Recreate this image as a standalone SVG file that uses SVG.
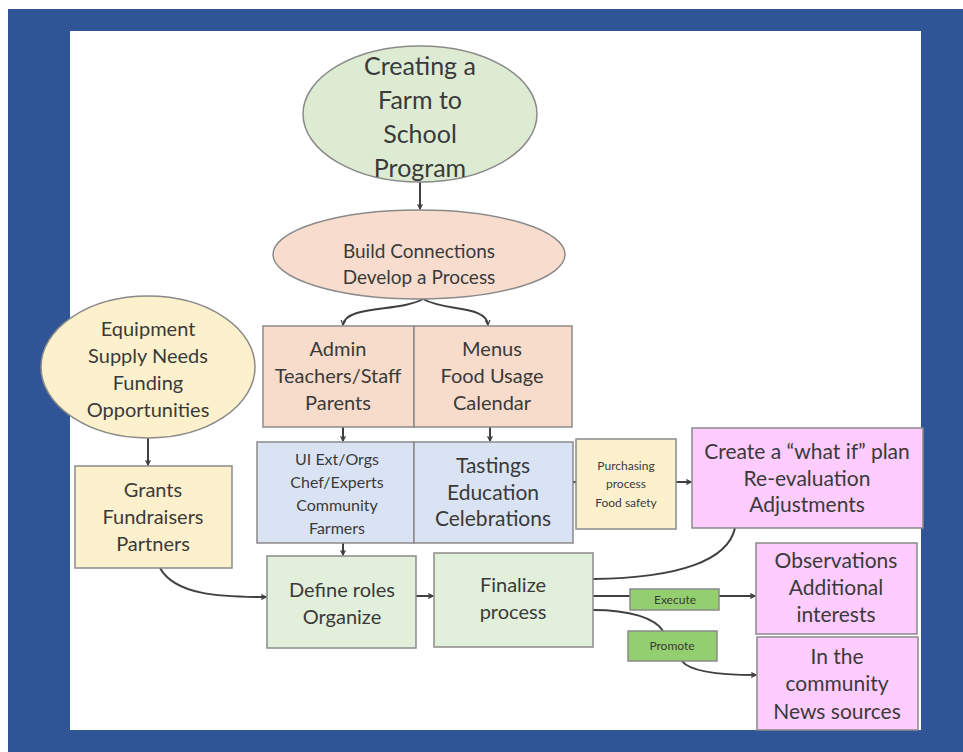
<svg xmlns="http://www.w3.org/2000/svg" width="963" height="752" viewBox="0 0 963 752">
<defs>
<style>
.t{font-family:Lato,"Open Sans","Liberation Sans",sans-serif;fill:#3a3a3a;text-anchor:middle}
.n{stroke:#8a8a8a;stroke-width:1.5}
.c{fill:none;stroke:#404040;stroke-width:2}
</style>
<marker id="ah" viewBox="0 0 10 10" refX="9" refY="5" markerWidth="6" markerHeight="6" orient="auto" markerUnits="userSpaceOnUse">
<path d="M1,1 L9,5 L1,9" fill="none" stroke="#404040" stroke-width="2"/>
</marker>
</defs>
<rect x="0" y="0" width="963" height="752" fill="#ffffff"/>
<rect x="8" y="9" width="955" height="743" fill="#2F5597"/>
<rect x="70" y="31" width="851" height="699" fill="#ffffff"/>

<g id="connectors">
<path class="c" d="M420,182 L420,209" marker-end="url(#ah)"/>
<path class="c" d="M423,299 C400,312 345,305 343,325" marker-end="url(#ah)"/>
<path class="c" d="M423,299 C446,312 486,305 488,325" marker-end="url(#ah)"/>
<path class="c" d="M343,427 L343,441" marker-end="url(#ah)"/>
<path class="c" d="M490,427 L490,441" marker-end="url(#ah)"/>
<path class="c" d="M148,438 L148,465" marker-end="url(#ah)"/>
<path class="c" d="M343,543 L343,555" marker-end="url(#ah)"/>
<path class="c" d="M160,568 C175,595 220,597 266,597" marker-end="url(#ah)"/>
<path class="c" d="M416,596 L433,596" marker-end="url(#ah)"/>
<path class="c" d="M573,482 L576,482"/>
<path class="c" d="M676,482 L691,482" marker-end="url(#ah)"/>
<path class="c" d="M593,579 C680,578 728,560 735,528"/>
<path class="c" d="M593,596 L755,596" marker-end="url(#ah)"/>
<path class="c" d="M593,610 C630,610 655,618 663,631"/>
<path class="c" d="M682,661 C690,672 720,675 756,675" marker-end="url(#ah)"/>
</g>

<g id="n-creating">
<ellipse class="n" cx="420" cy="114" rx="117" ry="68" fill="#DDEBD3"/>
<text class="t" font-size="25" x="420" y="75">Creating a</text>
<text class="t" font-size="25" x="420" y="109">Farm to</text>
<text class="t" font-size="25" x="420" y="143">School</text>
<text class="t" font-size="25" x="420" y="177">Program</text>
</g>

<g id="n-build">
<ellipse class="n" cx="419" cy="254.5" rx="146" ry="44.5" fill="#F8DDCF"/>
<text class="t" font-size="19" x="419" y="258">Build Connections</text>
<text class="t" font-size="19" x="419" y="284">Develop a Process</text>
</g>

<g id="n-equipment">
<ellipse class="n" cx="148" cy="367" rx="107" ry="71" fill="#FDF1CD"/>
<text class="t" font-size="20" x="148" y="336">Equipment</text>
<text class="t" font-size="20" x="148" y="363">Supply Needs</text>
<text class="t" font-size="20" x="148" y="390">Funding</text>
<text class="t" font-size="20" x="148" y="417">Opportunities</text>
</g>

<g id="n-grants">
<rect class="n" x="75" y="466" width="157" height="102" fill="#FDF1CD"/>
<text class="t" font-size="20" x="153" y="497">Grants</text>
<text class="t" font-size="20" x="153" y="524">Fundraisers</text>
<text class="t" font-size="20" x="153" y="551">Partners</text>
</g>

<g id="n-admin">
<rect class="n" x="263" y="326" width="151" height="101" fill="#F8DCCB"/>
<text class="t" font-size="20" x="338" y="356">Admin</text>
<text class="t" font-size="20" x="338" y="383">Teachers/Staff</text>
<text class="t" font-size="20" x="338" y="410">Parents</text>
</g>

<g id="n-menus">
<rect class="n" x="414" y="326" width="158" height="101" fill="#F8DCCB"/>
<text class="t" font-size="20" x="492" y="356">Menus</text>
<text class="t" font-size="20" x="492" y="383">Food Usage</text>
<text class="t" font-size="20" x="492" y="410">Calendar</text>
</g>

<g id="n-ui">
<rect class="n" x="257" y="442" width="157" height="101" fill="#DAE3F3"/>
<text class="t" font-size="16" x="337" y="465">UI Ext/Orgs</text>
<text class="t" font-size="16" x="337" y="488">Chef/Experts</text>
<text class="t" font-size="16" x="337" y="511">Community</text>
<text class="t" font-size="16" x="337" y="534">Farmers</text>
</g>

<g id="n-tastings">
<rect class="n" x="414" y="442" width="159" height="101" fill="#DAE3F3"/>
<text class="t" font-size="21" x="493" y="473">Tastings</text>
<text class="t" font-size="21" x="493" y="500">Education</text>
<text class="t" font-size="21" x="493" y="526">Celebrations</text>
</g>

<g id="n-purchasing">
<rect class="n" x="576" y="439" width="100" height="90" fill="#FDF1CD"/>
<text class="t" font-size="12" x="626" y="470">Purchasing</text>
<text class="t" font-size="12" x="626" y="488">process</text>
<text class="t" font-size="12" x="626" y="507">Food safety</text>
</g>

<g id="n-whatif">
<rect class="n" x="692" y="428" width="231" height="100" fill="#FFCCFF"/>
<text class="t" font-size="21" x="807" y="459">Create a “what if” plan</text>
<text class="t" font-size="21" x="807" y="486">Re-evaluation</text>
<text class="t" font-size="21" x="807" y="512">Adjustments</text>
</g>

<g id="n-define">
<rect class="n" x="267" y="556" width="149" height="92" fill="#E2EFDA"/>
<text class="t" font-size="20" x="342" y="597">Define roles</text>
<text class="t" font-size="20" x="342" y="624">Organize</text>
</g>

<g id="n-finalize">
<rect class="n" x="434" y="553" width="159" height="94" fill="#E2EFDA"/>
<text class="t" font-size="20" x="513" y="592">Finalize</text>
<text class="t" font-size="20" x="513" y="619">process</text>
</g>

<g id="n-execute">
<rect class="n" x="630" y="589" width="89" height="21" fill="#93CF6E"/>
<text class="t" font-size="12" x="675" y="604">Execute</text>
</g>

<g id="n-promote">
<rect class="n" x="628" y="631" width="89" height="30" fill="#93CF6E"/>
<text class="t" font-size="12" x="672" y="650">Promote</text>
</g>

<g id="n-observations">
<rect class="n" x="756" y="543" width="161" height="91" fill="#FFCCFF"/>
<text class="t" font-size="21" x="836" y="568">Observations</text>
<text class="t" font-size="21" x="836" y="595">Additional</text>
<text class="t" font-size="21" x="836" y="622">interests</text>
</g>

<g id="n-news">
<rect class="n" x="757" y="637" width="161" height="93" fill="#FFCCFF"/>
<text class="t" font-size="21" x="837" y="664">In the</text>
<text class="t" font-size="21" x="837" y="691">community</text>
<text class="t" font-size="21" x="837" y="719">News sources</text>
</g>
</svg>
